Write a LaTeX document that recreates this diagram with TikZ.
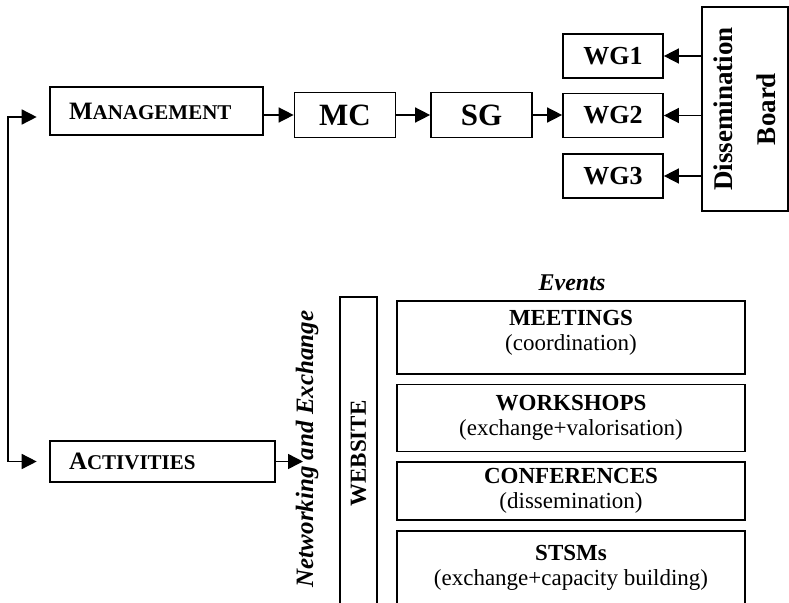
\documentclass[tikz,border=0pt]{standalone}
\usepackage{fontspec}
\setmainfont{Liberation Serif}
\usetikzlibrary{positioning, arrows.meta}

\begin{document}
\begin{tikzpicture}[
  x=1pt, y=-1pt,
  every node/.style={font=\bfseries},
  mainbox/.style={draw, line width=2.6pt, align=left, inner xsep=19pt,
                  inner ysep=0pt, font=\bfseries},
  unitbox/.style={draw, line width=1.7pt, minimum width=101pt, minimum height=45pt,
                  inner sep=0pt, font=\bfseries\fontsize{31}{34}\selectfont},
  wgbox/.style={draw, line width=1.7pt, minimum width=100pt, minimum height=44pt,
                inner sep=0pt, font=\bfseries\fontsize{26}{30}\selectfont},
  eventbox/.style={draw, line width=1.6pt, minimum width=348pt, align=center,
                   inner sep=0pt, font=\fontsize{23}{25}\selectfont},
  arr/.style={line width=1.5pt, -{Triangle[length=15pt, width=15pt]}},
]
  \useasboundingbox (0,0) rectangle (789,602);

  % Management branch
  \node[mainbox, text width=175pt, minimum height=48pt] (mgmt) at (156.5,111)
    {\fontsize{25}{28}\selectfont M\fontsize{21}{24}\selectfont ANAGEMENT};
  \node[unitbox] (mc) at (345,115) {MC};
  \node[unitbox] (sg) at (481.5,115) {SG};
  \node[wgbox] (wg1) at (613,56) {WG1};
  \node[wgbox] (wg2) at (613,115.5) {WG2};
  \node[wgbox] (wg3) at (613,176) {WG3};
  \node[draw, line width=2pt, minimum width=82pt, minimum height=204pt, inner sep=0pt]
    (board) at (745,109)
    {\rotatebox{90}{\fontsize{27}{43}\selectfont
      \begin{tabular}{@{}c@{}}Dissemination\\Board\end{tabular}}};

  \draw[arr] (mgmt.east |- mc) -- (mc);
  \draw[arr] (mc) -- (sg);
  \draw[arr] (sg) -- (sg -| wg2.west);
  \foreach \g in {wg1, wg2, wg3}
    \draw[arr] (\g -| board.west) -- (\g);

  % Activities branch
  \node[mainbox, text width=187pt, minimum height=41pt] (act) at (162.5,461.5)
    {\fontsize{25}{28}\selectfont A\fontsize{21}{24}\selectfont CTIVITIES};
  \node (net) at (307,449)
    {\rotatebox{90}{\fontsize{25}{28}\selectfont\itshape Networking and Exchange}};
  \node[draw, line width=2.6pt, minimum width=37pt, minimum height=313pt, inner sep=0pt]
    (web) at (358.5,453.5) {\rotatebox{90}{\fontsize{23}{26}\selectfont WEBSITE}};

  \node (events) at (572,283) {\fontsize{24}{28}\selectfont\itshape Events};
  \node[eventbox, minimum height=73pt, text depth=15pt] (meet) at (571,337.5)
    {\textbf{MEETINGS}\\(coordination)};
  \node[eventbox, minimum height=67pt, below=9pt of meet] (work)
    {\textbf{WORKSHOPS}\\(exchange+valorisation)};
  \node[eventbox, minimum height=58pt, below=9pt of work] (conf)
    {\textbf{CONFERENCES}\\(dissemination)};
  \node[eventbox, minimum height=74pt, below=9pt of conf] (stsm)
    {\textbf{STSMs}\\(exchange+capacity building)};

  \draw[arr, shorten >=4pt] (act) -- (act -| net);

  % Trunk on the left
  \coordinate (trunk) at (8,290);
  \draw[arr, shorten >=12pt] (trunk) |- ([yshift=-6pt]mgmt.west);
  \draw[arr, shorten >=12pt] (trunk) |- (act.west);
\end{tikzpicture}
\end{document}
